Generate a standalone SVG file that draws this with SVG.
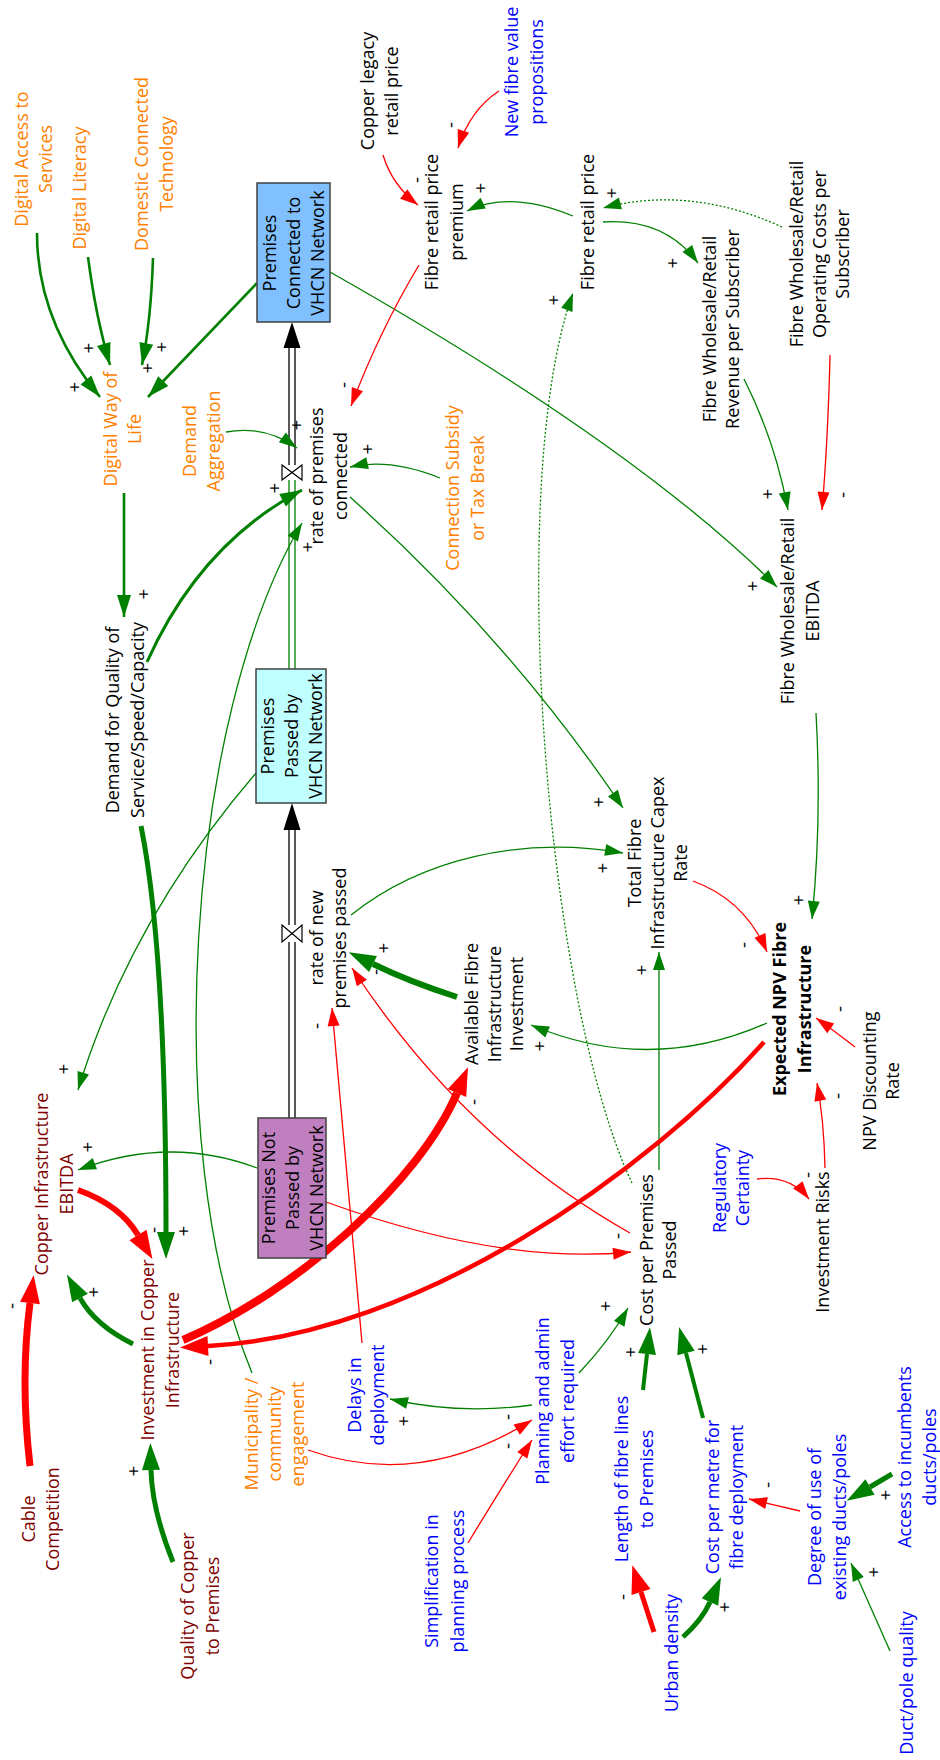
<svg xmlns="http://www.w3.org/2000/svg" width="940" height="1760" viewBox="0 0 940 1760">
<style>
.t{font-family:"Open Sans","Liberation Sans",sans-serif;font-size:18px;text-anchor:middle;fill:#000}
.o{fill:#FF8000}.b{fill:#0000FF}.d{fill:#800000}.bold{font-weight:bold}
.s{font-family:"Open Sans","Liberation Sans",sans-serif;font-size:19px;text-anchor:middle;fill:#000}
.g{fill:none;stroke:#008000}.r{fill:none;stroke:#FF0000}
.th{stroke-width:1.3}.md{stroke-width:2.6}
.dot{stroke-dasharray:2 2}
.gt{marker-end:url(#gT)}.rt{marker-end:url(#rT)}.gm{marker-end:url(#gM)}.gk{marker-end:url(#gK)}.rk{marker-end:url(#rK)}
.box{stroke:#404040;stroke-width:1.5}
.pipe{stroke:#000;stroke-width:1.3;fill:none}
</style>
<defs>
<marker id="gT" markerUnits="userSpaceOnUse" orient="auto" markerWidth="18" markerHeight="12" refX="18" refY="6" overflow="visible"><path d="M0,0 L18,6 L0,12 z" fill="#008000"/></marker>
<marker id="rT" markerUnits="userSpaceOnUse" orient="auto" markerWidth="18" markerHeight="12" refX="18" refY="6" overflow="visible"><path d="M0,0 L18,6 L0,12 z" fill="#FF0000"/></marker>
<marker id="gM" markerUnits="userSpaceOnUse" orient="auto" markerWidth="22" markerHeight="14" refX="22" refY="7" overflow="visible"><path d="M0,0 L22,7 L0,14 z" fill="#008000"/></marker>
<marker id="gK" markerUnits="userSpaceOnUse" orient="auto" markerWidth="27" markerHeight="18" refX="0" refY="9" overflow="visible"><path d="M0,0 L27,9 L0,18 z" fill="#008000"/></marker>
<marker id="rK" markerUnits="userSpaceOnUse" orient="auto" markerWidth="28" markerHeight="20" refX="0" refY="10" overflow="visible"><path d="M0,0 L28,10 L0,20 z" fill="#FF0000"/></marker>
</defs>
<rect width="940" height="1760" fill="#fff"/>

<g id="connectors">
<!-- flows -->
<path class="pipe" d="M289,348 V465 M295,348 V465"/>
<path d="M289,480 V669 M295,480 V669" fill="none" stroke="#008000" stroke-width="1.3"/>
<polygon points="292,322 283.5,348 300.5,348" fill="#000"/>
<polygon points="282,465 302,480 302,465 282,480" fill="#fff" stroke="#000" stroke-width="1.2"/>
<path class="pipe" d="M289,830 V925 M295,830 V925 M289,942 V1118 M295,942 V1118"/>
<polygon points="292,803 283.5,830 300.5,830" fill="#000"/>
<polygon points="282,925 302,942 302,925 282,942" fill="#fff" stroke="#000" stroke-width="1.2"/>

<!-- thin green -->
<path class="g th gt" d="M226,432 Q265,425 297,448"/>
<path class="g th gt" d="M252,1373 C160,1150 185,720 302,523"/>
<path class="g th gt" d="M440,478 Q390,458 350,467"/>
<path class="g th gt" d="M350,497 Q510,640 623,808"/>
<path class="g th gt" d="M573,216 Q510,190 467,211"/>
<path class="g th gt" d="M603,222 Q665,218 698,263"/>
<path class="g th gt" d="M744,379 Q775,440 788,510"/>
<path class="g th gt" d="M330,272 C450,340 650,460 777,587"/>
<path class="g th gt" d="M816,713 Q822,820 812,919"/>
<path class="g th gt" d="M767,1023 Q650,1075 531,1025"/>
<path class="g th gt" d="M659,1170 L659,952"/>
<path class="g th gt" d="M257,1168 Q170,1135 78,1170"/>
<path class="g th gt" d="M256,773 Q130,920 78,1090"/>
<path class="g th gt" d="M532,1405 Q460,1415 390,1399"/>
<path class="g th gt" d="M579,1373 Q610,1340 628,1308"/>
<path class="g th gt" d="M890,1651 L851,1563"/>
<path class="g th gt" d="M351,915 C420,860 520,835 623,853"/>
<path class="g th gt dot" d="M632,1183 C545,1000 505,480 573,293"/>
<path class="g th gt dot" d="M782,227 Q690,185 603,208"/>

<!-- thin red -->
<path class="r th rt" d="M419,265 Q380,330 351,406"/>
<path class="r th rt" d="M383,155 Q392,185 418,205"/>
<path class="r th rt" d="M499,91 Q470,110 458,148"/>
<path class="r th rt" d="M830,355 Q828,440 822,510"/>
<path class="r th rt" d="M693,881 Q745,900 767,952"/>
<path class="r th rt" d="M326,1202 Q500,1265 631,1252"/>
<path class="r th rt" d="M630,1233 Q465,1140 352,968"/>
<path class="r th rt" d="M308,1450 Q420,1490 532,1420"/>
<path class="r th rt" d="M468,1543 Q500,1490 532,1440"/>
<path class="r th rt" d="M362,1343 L332,1008"/>
<path class="r th rt" d="M800,1511 L749,1499"/>
<path class="r th rt" d="M757,1179 Q790,1175 809,1199"/>
<path class="r th rt" d="M825,1168 Q824,1120 817,1083"/>
<path class="r th rt" d="M855,1047 Q833,1030 816,1018"/>

<!-- medium green -->
<path class="g md gm" d="M37,233 Q37,321 100,397"/>
<path class="g md gm" d="M88,257 Q96,318 110,365"/>
<path class="g md gm" d="M153,258 Q151,320 142,365"/>
<path class="g md gm" d="M257,283 L148,397"/>
<path class="g md gm" d="M124,493 L124,617"/>
<path class="g gm" stroke-width="3" d="M147,662 Q200,544 302,490"/>

<!-- thick green -->
<path class="g gk" stroke-width="6" d="M457,997 Q410,982 373,964"/>
<path class="g gk" stroke-width="5" d="M141,826 Q166,950 166,1232"/>
<path class="g gk" stroke-width="5" d="M133,1344 Q95,1325 80,1298"/>
<path class="g gk" stroke-width="5" d="M173,1562 Q152,1510 151,1470"/>
<path class="g gk" stroke-width="4" d="M643,1390 L647,1354"/>
<path class="g gk" stroke-width="4" d="M703,1418 L686,1353"/>
<path class="g gk" stroke-width="5" d="M683,1637 Q702,1620 710,1602"/>
<path class="g gk" stroke-width="5" d="M892,1474 L870,1487"/>

<!-- thick red -->
<path class="r rk" stroke-width="4.5" d="M764,1042 C650,1170 420,1335 208,1346"/>
<path class="r rk" stroke-width="6" d="M78,1190 Q120,1205 138,1235"/>
<path class="r rk" stroke-width="7" d="M30,1466 Q20,1380 30,1303"/>
<path class="r rk" stroke-width="5" d="M654,1632 L641,1592"/>
<path class="r rk" stroke-width="8" d="M183,1340 C300,1290 420,1180 457,1093"/>
</g>

<g id="nodes" transform="rotate(-90)">
<g id="digital-access"><text class="t o"><tspan x="-159" y="28">Digital Access to</tspan><tspan x="-159" y="52">Services</tspan></text></g>
<g id="digital-literacy"><text class="t o"><tspan x="-188" y="86">Digital Literacy</tspan></text></g>
<g id="domestic-tech"><text class="t o"><tspan x="-164" y="148">Domestic Connected</tspan><tspan x="-164" y="173">Technology</tspan></text></g>
<g id="digital-way"><text class="t o"><tspan x="-429" y="117">Digital Way of</tspan><tspan x="-429" y="141">Life</tspan></text></g>
<g id="demand-aggregation"><text class="t o"><tspan x="-441" y="196">Demand</tspan><tspan x="-441" y="220">Aggregation</tspan></text></g>
<g id="rate-connected"><text class="t"><tspan x="-476" y="323">rate of premises</tspan><tspan x="-476" y="347">connected</tspan></text></g>
<g id="connection-subsidy"><text class="t o"><tspan x="-488" y="459">Connection Subsidy</tspan><tspan x="-488" y="484">or Tax Break</tspan></text></g>
<g id="demand-quality"><text class="t"><tspan x="-720" y="119">Demand for Quality of</tspan><tspan x="-720" y="144">Service/Speed/Capacity</tspan></text></g>
<g id="rate-new-passed"><text class="t"><tspan x="-938" y="323">rate of new</tspan><tspan x="-938" y="346">premises passed</tspan></text></g>
<g id="copper-ebitda"><text class="t d"><tspan x="-1184" y="48">Copper Infrastructure</tspan><tspan x="-1184" y="73">EBITDA</tspan></text></g>
<g id="investment-copper"><text class="t d"><tspan x="-1350" y="154">Investment in Copper</tspan><tspan x="-1350" y="179">Infrastructure</tspan></text></g>
<g id="cable-competition"><text class="t d"><tspan x="-1519" y="35">Cable</tspan><tspan x="-1519" y="59">Competition</tspan></text></g>
<g id="quality-copper"><text class="t d"><tspan x="-1606" y="194">Quality of Copper</tspan><tspan x="-1606" y="219">to Premises</tspan></text></g>
<g id="municipality"><text class="t o"><tspan x="-1434" y="258">Municipality /</tspan><tspan x="-1434" y="281">community</tspan><tspan x="-1434" y="304">engagement</tspan></text></g>
<g id="delays"><text class="t b"><tspan x="-1395" y="361">Delays in</tspan><tspan x="-1395" y="384">deployment</tspan></text></g>
<g id="planning"><text class="t b"><tspan x="-1401" y="549">Planning and admin</tspan><tspan x="-1401" y="574">effort required</tspan></text></g>
<g id="simplification"><text class="t b"><tspan x="-1581" y="438">Simplification in</tspan><tspan x="-1581" y="464">planning process</tspan></text></g>
<g id="length-fibre"><text class="t b"><tspan x="-1479" y="628">Length of fibre lines</tspan><tspan x="-1479" y="653">to Premises</tspan></text></g>
<g id="urban-density"><text class="t b"><tspan x="-1653" y="678">Urban density</tspan></text></g>
<g id="cost-metre"><text class="t b"><tspan x="-1497" y="719">Cost per metre for</tspan><tspan x="-1497" y="743">fibre deployment</tspan></text></g>
<g id="degree-ducts"><text class="t b"><tspan x="-1517" y="821">Degree of use of</tspan><tspan x="-1517" y="846">existing ducts/poles</tspan></text></g>
<g id="access-ducts"><text class="t b"><tspan x="-1457" y="911">Access to incumbents</tspan><tspan x="-1457" y="936">ducts/poles</tspan></text></g>
<g id="duct-quality"><text class="t b"><tspan x="-1683" y="913">Duct/pole quality</tspan></text></g>
<g id="cost-premises"><text class="t"><tspan x="-1250" y="653">Cost per Premises</tspan><tspan x="-1250" y="676">Passed</tspan></text></g>
<g id="regulatory"><text class="t b"><tspan x="-1188" y="726">Regulatory</tspan><tspan x="-1188" y="749">Certainty</tspan></text></g>
<g id="investment-risks"><text class="t"><tspan x="-1242" y="829">Investment Risks</tspan></text></g>
<g id="npv-rate"><text class="t"><tspan x="-1081" y="876">NPV Discounting</tspan><tspan x="-1081" y="899">Rate</tspan></text></g>
<g id="expected-npv"><text class="t bold"><tspan x="-1009" y="786">Expected NPV Fibre</tspan><tspan x="-1009" y="811">Infrastructure</tspan></text></g>
<g id="available-fibre"><text class="t"><tspan x="-1004" y="478">Available Fibre</tspan><tspan x="-1004" y="501">Infrastructure</tspan><tspan x="-1004" y="523">Investment</tspan></text></g>
<g id="total-capex"><text class="t"><tspan x="-863" y="641">Total Fibre</tspan><tspan x="-863" y="664">Infrastructure Capex</tspan><tspan x="-863" y="687">Rate</tspan></text></g>
<g id="fibre-ebitda"><text class="t"><tspan x="-611" y="794">Fibre Wholesale/Retail</tspan><tspan x="-611" y="819">EBITDA</tspan></text></g>
<g id="fibre-revenue"><text class="t"><tspan x="-329" y="716">Fibre Wholesale/Retail</tspan><tspan x="-329" y="739">Revenue per Subscriber</tspan></text></g>
<g id="fibre-opcosts"><text class="t"><tspan x="-254" y="803">Fibre Wholesale/Retail</tspan><tspan x="-254" y="826">Operating Costs per</tspan><tspan x="-254" y="849">Subscriber</tspan></text></g>
<g id="fibre-retail-price"><text class="t"><tspan x="-222" y="594">Fibre retail price</tspan></text></g>
<g id="fibre-premium"><text class="t"><tspan x="-222" y="438">Fibre retail price</tspan><tspan x="-222" y="463">premium</tspan></text></g>
<g id="copper-legacy"><text class="t"><tspan x="-91" y="374">Copper legacy</tspan><tspan x="-91" y="398">retail price</tspan></text></g>
<g id="new-fibre-value"><text class="t b"><tspan x="-72" y="518">New fibre value</tspan><tspan x="-72" y="543">propositions</tspan></text></g>

<g id="premises-connected"><rect x="-322" y="257" width="139" height="73" fill="#80C0FF" class="box"/><text class="t"><tspan x="-253" y="276">Premises</tspan><tspan x="-253" y="300">Connected to</tspan><tspan x="-253" y="324">VHCN Network</tspan></text></g>
<g id="premises-passed"><rect x="-803" y="256" width="134" height="70" fill="#C0FFFF" class="box"/><text class="t"><tspan x="-736" y="274">Premises</tspan><tspan x="-736" y="298">Passed by</tspan><tspan x="-736" y="322">VHCN Network</tspan></text></g>
<g id="premises-not-passed"><rect x="-1258" y="258" width="140" height="68" fill="#C080C0" class="box"/><text class="t"><tspan x="-1188" y="275">Premises Not</tspan><tspan x="-1188" y="299">Passed by</tspan><tspan x="-1188" y="323">VHCN Network</tspan></text></g>

<g id="polarities">
<text class="s" x="-387" y="81">+</text>
<text class="s" x="-348" y="95">+</text>
<text class="s" x="-347" y="168">+</text>
<text class="s" x="-368" y="154">+</text>
<text class="s" x="-425" y="303">+</text>
<text class="s" x="-594" y="150">+</text>
<text class="s" x="-488" y="281">+</text>
<text class="s" x="-547" y="314">+</text>
<text class="s" x="-449" y="374">+</text>
<text class="s" x="-385" y="350">-</text>
<text class="s" x="-802" y="605">+</text>
<text class="s" x="-300" y="560">+</text>
<text class="s" x="-188" y="487">+</text>
<text class="s" x="-180" y="423">-</text>
<text class="s" x="-125" y="457">-</text>
<text class="s" x="-263" y="679">+</text>
<text class="s" x="-193" y="618">+</text>
<text class="s" x="-494" y="774">+</text>
<text class="s" x="-495" y="849">-</text>
<text class="s" x="-586" y="759">+</text>
<text class="s" x="-900" y="805">+</text>
<text class="s" x="-945" y="750">-</text>
<text class="s" x="-1046" y="546">+</text>
<text class="s" x="-1362" y="216">-</text>
<text class="s" x="-970" y="648">+</text>
<text class="s" x="-948" y="390">+</text>
<text class="s" x="-972" y="382">-</text>
<text class="s" x="-1102" y="480">-</text>
<text class="s" x="-1147" y="94">+</text>
<text class="s" x="-1236" y="624">-</text>
<text class="s" x="-1069" y="70">+</text>
<text class="s" x="-1230" y="160">-</text>
<text class="s" x="-1231" y="190">+</text>
<text class="s" x="-1292" y="100">+</text>
<text class="s" x="-1306" y="18">-</text>
<text class="s" x="-1471" y="140">+</text>
<text class="s" x="-1417" y="514">-</text>
<text class="s" x="-1446" y="514">-</text>
<text class="s" x="-1421" y="410">+</text>
<text class="s" x="-1026" y="323">-</text>
<text class="s" x="-1306" y="612">+</text>
<text class="s" x="-1352" y="637">+</text>
<text class="s" x="-1349" y="709">+</text>
<text class="s" x="-1597" y="629">-</text>
<text class="s" x="-1607" y="731">+</text>
<text class="s" x="-1485" y="774">-</text>
<text class="s" x="-1495" y="892">+</text>
<text class="s" x="-1572" y="880">+</text>
<text class="s" x="-1175" y="814">-</text>
<text class="s" x="-1096" y="844">-</text>
<text class="s" x="-1009" y="846">-</text>
<text class="s" x="-868" y="609">+</text>
</g>
</g>
</svg>
